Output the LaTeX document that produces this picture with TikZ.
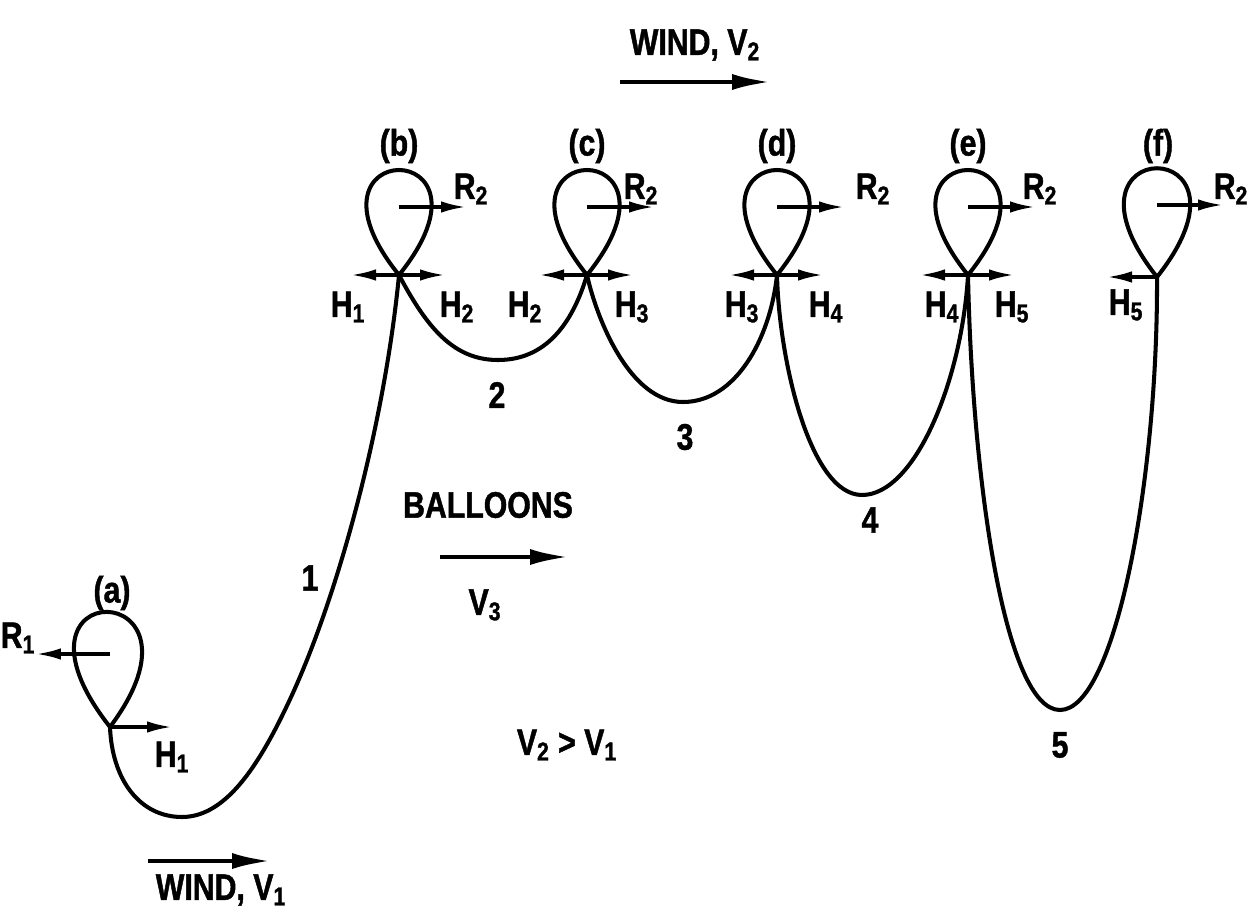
\documentclass[tikz,border=0pt]{standalone}
\usepackage{fontspec}
\setmainfont{Liberation Sans}
\newfontfamily\lettering[FakeStretch=0.82, FakeBold=1.2]{Liberation Sans}
\usetikzlibrary{arrows.meta}

\begin{document}
\begin{tikzpicture}[x=0.02cm, y=-0.02cm,
  rope/.style={line width=2.3pt, line join=round},
  force/.style={-{Latex[length=5mm, width=2.3mm]}, line width=1.8pt},
  wind/.style={-{Latex[length=8mm, width=3.2mm]}, line width=2.8pt},
  lbl/.style={font=\lettering\fontsize{21}{24}\selectfont\bfseries, inner sep=1pt},
]
\useasboundingbox (0,0) rectangle (1250,919);

\coordinate (xa) at (110,727);
\coordinate (ca) at (110,654);
\coordinate (ra) at (36,654);
\coordinate (ha) at (172,727);
\draw[rope] (xa) .. controls +(-122,-155) and +(114,-152) .. (xa);
\draw[force] (ca) -- (ra);
\draw[force] (xa) -- (ha);
\node[lbl] (la) at (112,593) {(a)};
\node[lbl] (rla) at (18,638) {R\textsubscript{1}};
\node[lbl] (hla) at (172,757) {H\textsubscript{1}};

\foreach \n/\x/\lx/\hA/\rx/\hB/\qx in {b/399/348/1/457/2/471, c/587/525/2/632/3/641,
    d/777/742/3/826/4/873, e/968/942/4/1012/5/1040}{
  \coordinate (x\n) at (\x,275);
  \coordinate (c\n) at (\x,207);
  \coordinate (r\n) at (\x+67,207);
  \coordinate (hl\n) at (\x-48,275);
  \coordinate (hr\n) at (\x+46,275);
  \draw[rope] (x\n) .. controls +(-113,-140) and +(113,-140) .. (x\n);
  \draw[force] (c\n) -- (r\n);
  \draw[force] (x\n) -- (hl\n);
  \draw[force] (x\n) -- (hr\n);
  \node[lbl] (l\n) at (\x,146) {(\n)};
  \node[lbl] (q\n) at (\qx,189) {R\textsubscript{2}};
  \node[lbl] (hl\n) at (\lx,307) {H\textsubscript{\hA}};
  \node[lbl] (hr\n) at (\rx,307) {H\textsubscript{\hB}};
}

\coordinate (xf) at (1157,277);
\coordinate (cf) at (1157,205);
\coordinate (rf) at (1223,205);
\coordinate (hf) at (1107,277);
\draw[rope] (xf) .. controls +(-115,-145) and +(115,-145) .. (xf);
\draw[force] (cf) -- (rf);
\draw[force] (xf) -- (hf);
\node[lbl] (lf) at (1158,146) {(f)};
\node[lbl] (qf) at (1231,189) {R\textsubscript{2}};
\node[lbl] (hlf) at (1126,305) {H\textsubscript{5}};

\draw[rope] (xa) .. controls (112,780) and (140,817) .. (182,817)
  .. controls (228,817) and (262,760) .. (292,695)
  .. controls (340,590) and (385,420) .. (xb);
\draw[rope] (xb) .. controls (428,330) and (455,360) .. (498,360)
  .. controls (545,360) and (572,325) .. (xc);
\draw[rope] (xc) .. controls (597,320) and (630,402) .. (683,402)
  .. controls (735,402) and (770,340) .. (xd);
\draw[rope] (xd) .. controls (779,360) and (810,495) .. (862,495)
  .. controls (915,495) and (962,380) .. (xe);
\draw[rope] (xe) .. controls (972,480) and (1005,710) .. (1060,710)
  .. controls (1115,710) and (1158,480) .. (xf);

\node[lbl] (n1) at (310,578) {1};
\node[lbl] (n2) at (497,395) {2};
\node[lbl] (n3) at (685,437) {3};
\node[lbl] (n4) at (870,520) {4};
\node[lbl] (n5) at (1060,745) {5};

\coordinate (w2a) at (620,82);
\coordinate (w2b) at (772,82);
\draw[wind] (w2a) -- (w2b);
\node[lbl] (wind2) at (695,45) {WIND, V\textsubscript{2}};

\coordinate (w1a) at (148,861);
\coordinate (w1b) at (272,861);
\draw[wind] (w1a) -- (w1b);
\node[lbl] (wind1) at (221,890) {WIND, V\textsubscript{1}};

\coordinate (w3a) at (440,557);
\coordinate (w3b) at (570,557);
\draw[wind] (w3a) -- (w3b);
\node[lbl] (balloons) at (488,505) {BALLOONS};
\node[lbl] (v3) at (485,605) {V\textsubscript{3}};
\node[lbl] (vrel) at (567,745) {V\textsubscript{2} > V\textsubscript{1}};
\end{tikzpicture}
\end{document}
